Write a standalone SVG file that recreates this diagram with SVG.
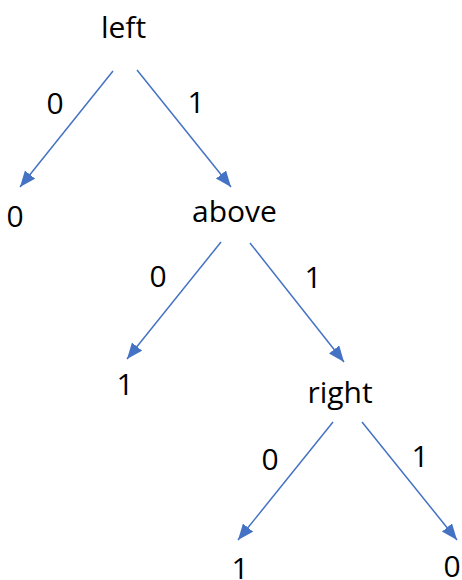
<svg xmlns="http://www.w3.org/2000/svg" width="462" height="580" viewBox="0 0 462 580">
  <defs>
    <marker id="arrow" markerWidth="17" markerHeight="14" refX="16" refY="6.5" orient="auto" markerUnits="userSpaceOnUse">
      <path d="M0,0 L16,6.5 L0,13 z" fill="#4472C4"/>
    </marker>
    <style>
      text { font-family: "Open Sans", "Liberation Sans", sans-serif; font-size: 30px; fill: #000; text-anchor: middle; }
      .edge { stroke: #4472C4; stroke-width: 1.5; fill: none; marker-end: url(#arrow); }
    </style>
  </defs>
  <rect width="462" height="580" fill="#ffffff"/>
  <g id="connectors">
    <line class="edge" x1="113" y1="71" x2="20" y2="187"/>
    <line class="edge" x1="137" y1="70" x2="231" y2="187"/>
    <line class="edge" x1="221" y1="242" x2="127" y2="359"/>
    <line class="edge" x1="250" y1="243" x2="344" y2="362"/>
    <line class="edge" x1="333" y1="422" x2="238" y2="540"/>
    <line class="edge" x1="362" y1="422" x2="457" y2="540"/>
    <text x="55" y="114">0</text>
    <text x="196" y="113">1</text>
    <text x="158" y="287">0</text>
    <text x="313" y="288">1</text>
    <text x="270" y="470">0</text>
    <text x="420" y="467">1</text>
  </g>
  <g id="node-left"><text x="123.5" y="38">left</text></g>
  <g id="node-leaf0a"><text x="15" y="227">0</text></g>
  <g id="node-above"><text x="234.5" y="222">above</text></g>
  <g id="node-leaf1a"><text x="125" y="395">1</text></g>
  <g id="node-right"><text x="340" y="403">right</text></g>
  <g id="node-leaf1b"><text x="240" y="579">1</text></g>
  <g id="node-leaf0b"><text x="452" y="577">0</text></g>
</svg>
